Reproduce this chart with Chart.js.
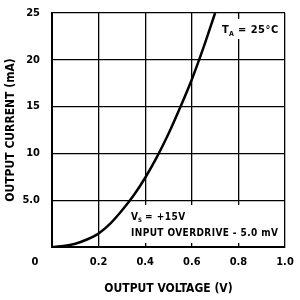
<!DOCTYPE html>
<html>
<head>
<meta charset="utf-8">
<script src="https://cdn.jsdelivr.net/npm/chart.js@4/dist/chart.umd.min.js"></script>
<style>
  html, body { margin: 0; padding: 0; background: #fff; }
  #wrap { width: 300px; height: 300px; }
</style>
</head>
<body>
<div id="wrap"><canvas id="chart" width="300" height="300"></canvas></div>
<script>
// Output current vs output voltage
const voltage = [0, 0.05, 0.1, 0.15, 0.2, 0.25, 0.3, 0.35, 0.4, 0.45, 0.5, 0.55, 0.6, 0.65, 0.70];
const current = [0, 0.1, 0.35, 0.8, 1.45, 2.5, 3.9, 5.5, 7.4, 9.6, 12.1, 14.9, 17.9, 21.3, 25.0];
const xTicks = [0, 0.2, 0.4, 0.6, 0.8, 1.0];
const yTicks = [0, 5, 10, 15, 20, 25];

const FONT = "'DejaVu Sans Condensed', 'Liberation Sans Narrow', sans-serif";

// white label boxes drawn over the grid, under the curve
const notesPlugin = {
    id: 'notes',
    beforeDatasetsDraw(chart) {
        const ctx = chart.ctx;
        ctx.save();
        ctx.fillStyle = '#fff';
        ctx.fillRect(218, 19, 64, 20);
        ctx.fillRect(128, 205, 152, 38);
        ctx.fillStyle = '#000';
        ctx.textBaseline = 'alphabetic';
        ctx.letterSpacing = '0.5px';
        ctx.font = 'bold 11px ' + FONT;
        ctx.fillText('T', 222, 33);
        ctx.font = 'bold 7px ' + FONT;
        ctx.fillText('A', 229, 36);
        ctx.font = 'bold 11px ' + FONT;
        ctx.fillText('= 25°C', 238, 33);

        ctx.font = 'bold 10px ' + FONT;
        ctx.fillText('V', 131, 220);
        ctx.font = 'bold 6px ' + FONT;
        ctx.fillText('S', 138, 222);
        ctx.font = 'bold 10px ' + FONT;
        ctx.fillText('= +15V', 145, 220);
        ctx.letterSpacing = '0.4px';
        ctx.fillText('INPUT OVERDRIVE - 5.0 mV', 131, 236);
        ctx.restore();
    },
    afterDraw(chart) {
        const ctx = chart.ctx;
        ctx.save();
        ctx.fillStyle = '#000';
        ctx.font = 'bold 11px ' + FONT;
        ctx.textAlign = 'center';
        ctx.textBaseline = 'middle';
        ctx.fillText('0', 35, 262);
        ctx.restore();
    }
};

new Chart(document.getElementById('chart'), {
    type: 'line',
    data: {
        datasets: [{
            data: voltage.map((v, i) => ({ x: v, y: current[i] })),
            borderColor: '#000',
            borderWidth: 2.5,
            pointRadius: 0,
            cubicInterpolationMode: 'monotone',
            fill: false
        }]
    },
    options: {
        responsive: false,
        animation: false,
        layout: { padding: { top: 13, right: 15, left: 0, bottom: 0 } },
        plugins: { legend: { display: false }, tooltip: { enabled: false } },
        scales: {
            x: {
                type: 'linear',
                min: 0, max: 1.0,
                afterBuildTicks: s => { s.ticks = xTicks.map(v => ({ value: v })); },
                afterFit: s => { s.height = 53; s.paddingLeft = 0; s.paddingRight = 0; },
                ticks: {
                    color: '#000',
                    font: { family: FONT, size: 11, weight: 'bold' },
                    padding: 9,
                    maxRotation: 0,
                    callback: v => v === 0 ? '' : v.toFixed(1)
                },
                grid: { color: '#000', lineWidth: 1.3, drawTicks: false },
                border: { color: '#000', width: 2 },
                title: {
                    display: true,
                    text: 'OUTPUT VOLTAGE (V)',
                    color: '#000',
                    font: { family: FONT, size: 12, weight: 'bold' },
                    padding: { top: 11 }
                }
            },
            y: {
                type: 'linear',
                min: 0, max: 25,
                afterBuildTicks: s => { s.ticks = yTicks.map(v => ({ value: v })); },
                afterFit: s => { s.width = 52; s.paddingTop = 0; s.paddingBottom = 0; },
                ticks: {
                    color: '#000',
                    font: { family: FONT, size: 11, weight: 'bold' },
                    padding: 12,
                    callback: v => v === 0 ? '' : (v === 5 ? '5.0' : String(v))
                },
                grid: { color: '#000', lineWidth: 1.3, drawTicks: false },
                border: { color: '#000', width: 2 },
                title: {
                    display: true,
                    text: 'OUTPUT CURRENT (mA)',
                    color: '#000',
                    font: { family: FONT, size: 12, weight: 'bold' },
                    padding: { bottom: 4 }
                }
            }
        }
    },
    plugins: [notesPlugin]
});
</script>
</body>
</html>
